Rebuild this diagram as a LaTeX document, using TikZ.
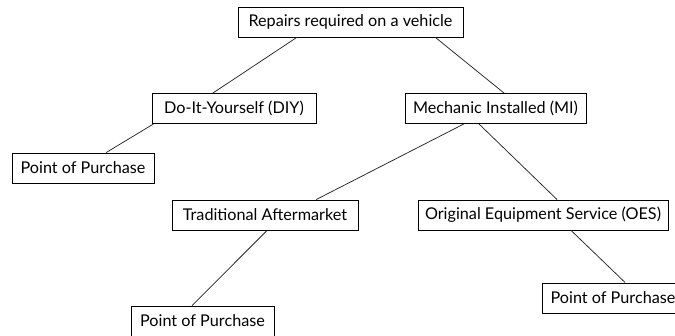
\documentclass[tikz,border=0pt]{standalone}
\usepackage{fontspec}
\setmainfont{Lato}
\usetikzlibrary{calc}
\begin{document}
\begin{tikzpicture}[x=1pt,y=-1pt,
  box/.style={draw=black,line width=0.9pt,rectangle,inner sep=0pt,minimum height=30pt,
    font=\fontsize{16.2}{18}\selectfont,text=black},
  link/.style={draw=black!85,line width=0.75pt}]
\useasboundingbox (0,0) rectangle (675,335);
\clip (0,0) rectangle (675,335);
\node[box,minimum width=225pt] (root) at (350.5,22) {Repairs required on a vehicle};
\node[box,minimum width=164pt] (diy) at (234,108.5) {Do-It-Yourself (DIY)};
\node[box,minimum width=181pt] (mi) at (495.5,108.5) {Mechanic Installed (MI)};
\node[box,minimum width=142pt] (popl) at (83,168) {Point of Purchase};
\node[box,minimum width=186pt] (trad) at (265,215) {Traditional Aftermarket};
\node[box,minimum width=250pt] (oes) at (543,215) {Original Equipment Service (OES)};
\node[box,minimum width=143pt] (popb) at (202.5,321) {Point of Purchase};
\node[box,minimum width=142pt] (popr) at (613,298) {Point of Purchase};
\draw[link] ($(root.south west)!0.262!(root.south east)$) -- ($(diy.north west)!0.372!(diy.north east)$);
\draw[link] ($(root.south west)!0.876!(root.south east)$) -- ($(mi.north west)!0.547!(mi.north east)$);
\draw[link] ($(diy.south west)!0.012!(diy.south east)$) -- ($(popl.north west)!0.662!(popl.north east)$);
\draw[link] ($(mi.south west)!0.326!(mi.south east)$) -- ($(trad.north west)!0.774!(trad.north east)$);
\draw[link] ($(mi.south west)!0.409!(mi.south east)$) -- ($(oes.north west)!0.556!(oes.north east)$);
\draw[link] ($(trad.south west)!0.511!(trad.south east)$) -- ($(popb.north west)!0.427!(popb.north east)$);
\draw[link] ($(oes.south west)!0.612!(oes.south east)$) -- ($(popr.north west)!0.585!(popr.north east)$);
\end{tikzpicture}
\end{document}
